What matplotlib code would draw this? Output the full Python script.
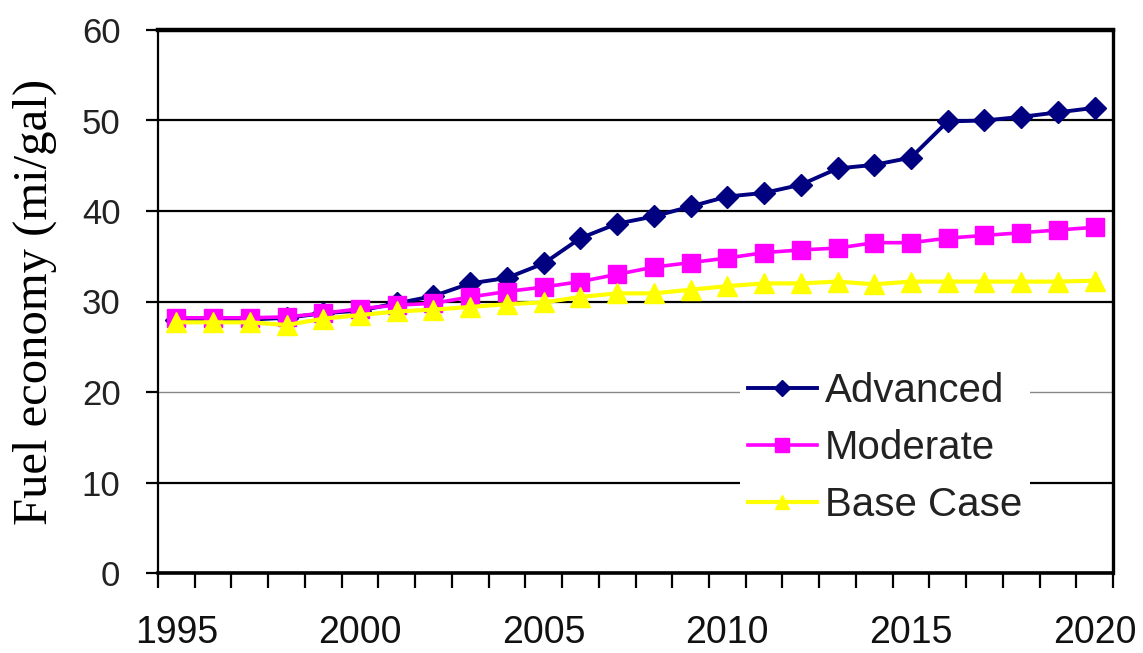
import matplotlib
matplotlib.use("Agg")
import matplotlib.pyplot as plt
import numpy as np

# Projected fleet fuel economy by scenario (mi/gal)
years = list(range(1995, 2021))
advanced = [28.0, 28.0, 28.0, 28.2, 28.7, 29.0, 29.8, 30.6, 32.0, 32.6,
            34.2, 37.0, 38.6, 39.4, 40.5, 41.6, 42.0, 42.9, 44.7, 45.1,
            45.9, 49.9, 50.0, 50.4, 50.9, 51.4]
moderate = [28.2, 28.2, 28.2, 28.3, 28.7, 29.2, 29.6, 29.8, 30.5, 31.1,
            31.6, 32.2, 33.0, 33.8, 34.3, 34.8, 35.4, 35.7, 35.9, 36.5,
            36.5, 37.0, 37.3, 37.6, 37.9, 38.2]
base_case = [27.7, 27.7, 27.7, 27.4, 28.1, 28.5, 28.9, 29.1, 29.4, 29.7,
             29.9, 30.5, 30.9, 30.9, 31.3, 31.7, 32.0, 32.0, 32.2, 31.9,
             32.2, 32.2, 32.2, 32.2, 32.2, 32.3]
series_names = ["Advanced", "Moderate", "Base Case"]
year_labels = ["1995", "2000", "2005", "2010", "2015", "2020"]
y_ticks = [0, 10, 20, 30, 40, 50, 60]

sans = ["Liberation Sans", "DejaVu Sans"]
serif = ["Liberation Serif", "DejaVu Serif"]

fig = plt.figure(figsize=(11.43, 6.53), dpi=100)
ax = fig.add_axes([158 / 1143, 1 - 573 / 653, (1113 - 158) / 1143, (573 - 30) / 653])

x = np.arange(len(years))

ax.plot(x, advanced, color="#000080", lw=2.8, marker="D", ms=11.5,
        label=series_names[0], zorder=3)
ax.plot(x, moderate, color="#FF00FF", lw=2.6, marker="s", ms=12.5,
        label=series_names[1], zorder=4)
ax.plot(x, base_case, color="#FFFF00", lw=3.0, marker="^", ms=14,
        label=series_names[2], zorder=5)

ax.set_xlim(-0.5, len(years) - 0.5)
ax.set_ylim(0, 60)

# category axis: tick marks between categories, labels every fifth year
ax.set_xticks([years.index(int(y)) for y in year_labels])
ax.set_xticklabels(year_labels, fontfamily=sans, fontsize=27, color="#111111")
ax.set_xticks(np.arange(-0.5, len(years)), minor=True)
ax.tick_params(axis="x", which="major", length=0, pad=30)
ax.tick_params(axis="x", which="minor", length=11, width=1.6, direction="out",
               color="black")

ax.set_yticks(y_ticks)
ax.set_yticklabels([str(v) for v in y_ticks], fontfamily=sans, fontsize=25,
                   color="#222222")
ax.tick_params(axis="y", length=9, width=1.6, direction="out", pad=18)

ax.yaxis.grid(True, color="black", lw=1.6)
ax.set_axisbelow(True)
for v, gl in zip(y_ticks, ax.get_ygridlines()):
    if v == 20:
        gl.set_color("#888888")
        gl.set_linewidth(1.0)

ax.spines["top"].set_linewidth(3.2)
ax.spines["bottom"].set_linewidth(2.6)
ax.spines["left"].set_linewidth(1.6)
ax.spines["right"].set_linewidth(2.4)

ax.set_ylabel("Fuel economy (mi/gal)", fontfamily=serif, fontsize=35,
              labelpad=18)

leg = ax.legend(loc="upper left", bbox_to_anchor=(0.6095, 0.385),
                prop={"family": sans, "size": 29}, frameon=True,
                facecolor="white", edgecolor="none", framealpha=1.0,
                handlelength=1.7, handletextpad=0.2, labelspacing=0.47,
                borderpad=0.2, borderaxespad=0, markerscale=0.75)
leg.get_frame().set_linewidth(0)
for t in leg.get_texts():
    t.set_color("#222222")

fig.savefig("out.png", dpi=100, facecolor="white")
